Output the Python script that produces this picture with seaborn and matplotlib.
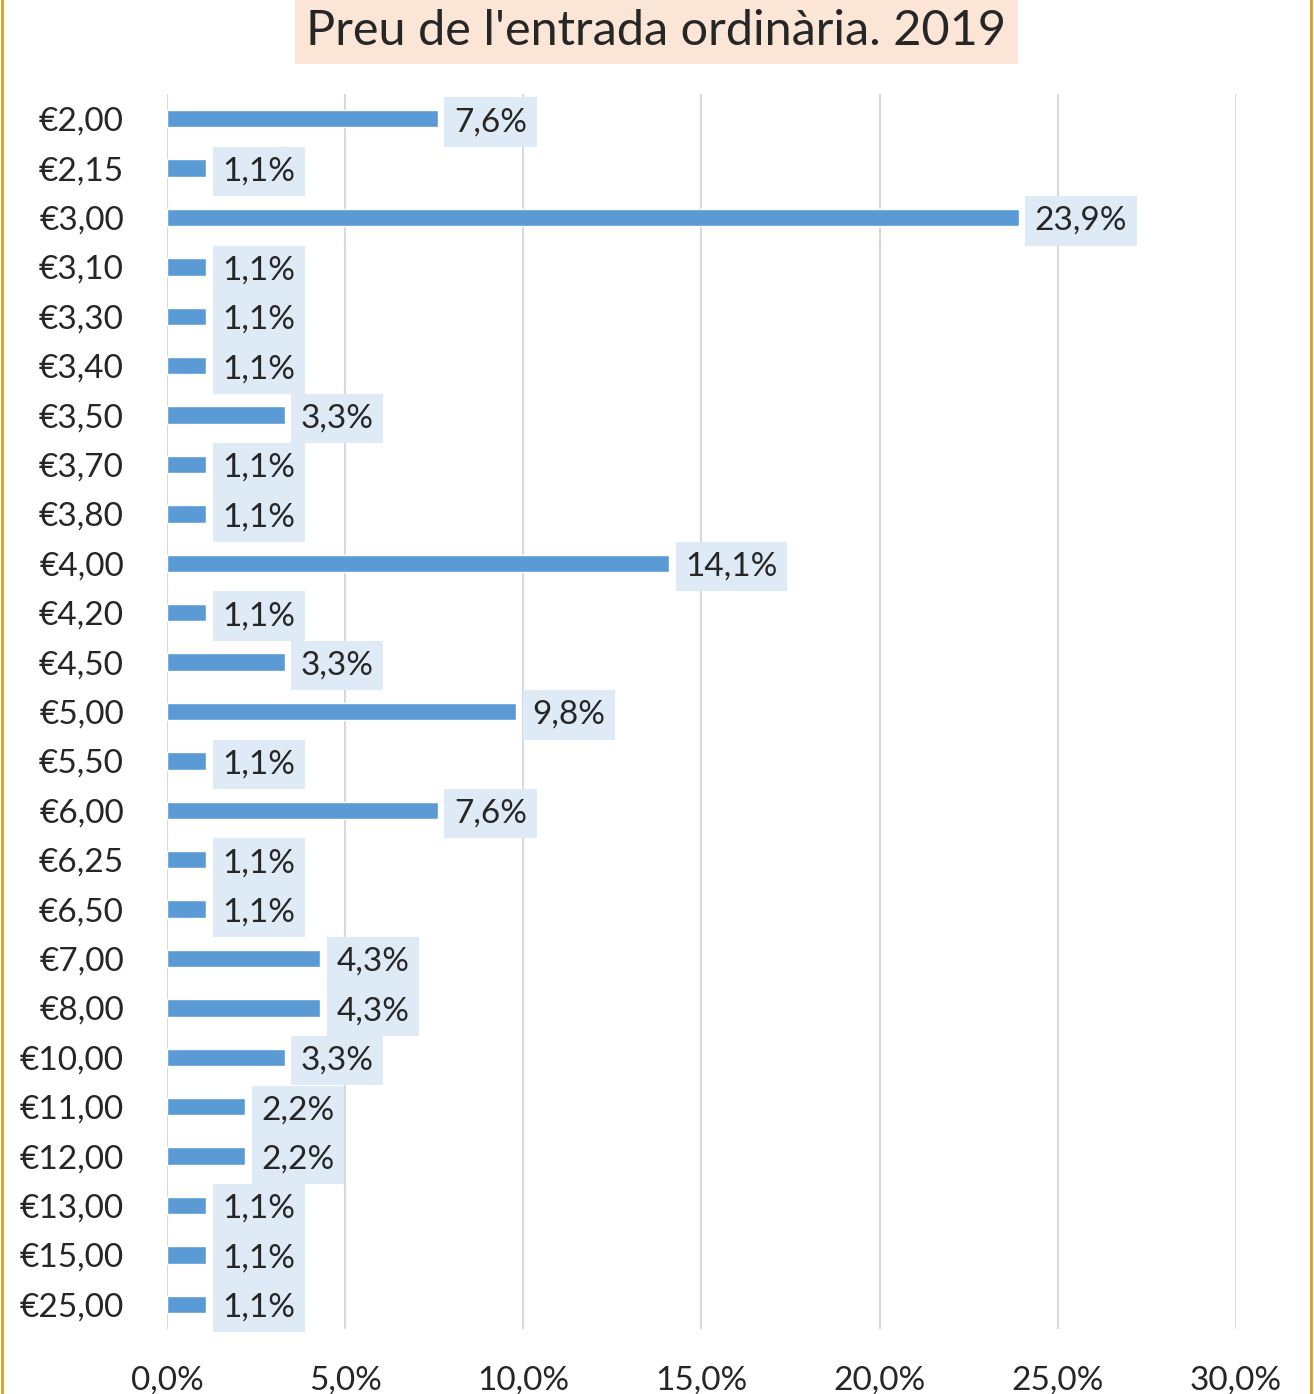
import matplotlib
matplotlib.use("Agg")
import matplotlib.pyplot as plt
import seaborn as sns
import pandas as pd
from matplotlib.patches import Rectangle

preus = ["€2,00", "€2,15", "€3,00", "€3,10", "€3,30", "€3,40", "€3,50", "€3,70",
         "€3,80", "€4,00", "€4,20", "€4,50", "€5,00", "€5,50", "€6,00", "€6,25",
         "€6,50", "€7,00", "€8,00", "€10,00", "€11,00", "€12,00", "€13,00",
         "€15,00", "€25,00"]
percentatges = [7.6, 1.1, 23.9, 1.1, 1.1, 1.1, 3.3, 1.1, 1.1, 14.1, 1.1, 3.3,
                9.8, 1.1, 7.6, 1.1, 1.1, 4.3, 4.3, 3.3, 2.2, 2.2, 1.1, 1.1, 1.1]
xticks = [0, 5, 10, 15, 20, 25, 30]

df = pd.DataFrame({"preu": preus, "pct": percentatges})

sns.set_style("white")
plt.rcParams["font.family"] = ["Lato", "DejaVu Sans"]

fig = plt.figure(figsize=(13.14, 13.94), dpi=100)
ax = fig.add_axes([0.1271, 0.0466, 0.8135, 0.886])

sns.barplot(data=df, x="pct", y="preu", color="#5B9BD5", saturation=1,
            width=0.35, orient="h", ax=ax)

ax.set_xlim(0, 30)
ax.set_ylim(24.5, -0.5)
ax.set_xticks(xticks)
ax.set_xticklabels([f"{t:.1f}%".replace(".", ",") for t in xticks], fontsize=24)
ax.tick_params(axis="y", labelsize=24, length=0, pad=31)
ax.tick_params(axis="x", length=0, pad=26)
ax.set_xlabel("")
ax.set_ylabel("")
ax.grid(axis="x", color="#D9D9D9", linewidth=1.5)
ax.set_axisbelow(True)
for s in ax.spines.values():
    s.set_visible(False)

# etiquetes amb fons blau clar
for i, v in enumerate(percentatges):
    ax.text(v + 0.45, i + 0.07, f"{v:.1f}%".replace(".", ","), fontsize=24,
            va="center", ha="left",
            bbox=dict(facecolor="#DEEAF6", edgecolor="none", pad=7))

fig.text(0.4995, 0.978, "Preu de l'entrada ordinària. 2019", fontsize=35,
         ha="center", va="center",
         bbox=dict(facecolor="#FBE5D6", edgecolor="none", pad=8))

fig.patches.append(Rectangle((0.0015, -0.01), 0.9965, 1.02, transform=fig.transFigure,
                             fill=False, edgecolor="#D4A11E", linewidth=2))

fig.savefig("out.png", dpi=100)
